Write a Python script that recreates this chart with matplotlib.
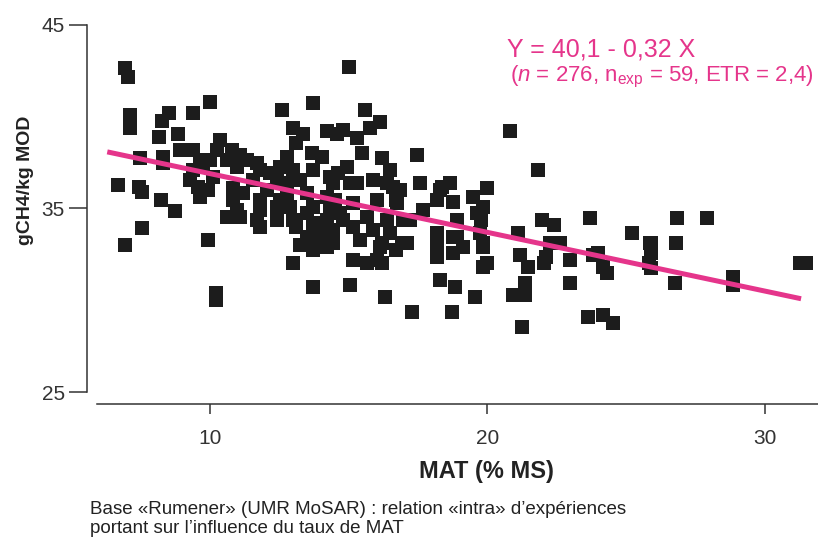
import matplotlib
matplotlib.use("Agg")
import matplotlib.pyplot as plt
import numpy as np

# ---- data (MAT % MS vs g CH4 / kg MOD) ----
mat = [
    6.94, 7.05, 7.12, 7.12, 8.52, 8.27, 9.39, 10.00, 8.16, 8.85, 8.92, 7.48, 8.31, 12.59,
    6.68, 7.44, 7.55, 6.94, 7.55, 8.23, 8.74, 9.93, 10.22, 10.22, 10.61, 9.64,
    13.71, 13.00, 13.35, 14.21, 14.58, 10.36, 9.39, 10.25, 10.79, 11.08, 9.64, 10.00,
    10.61, 11.33, 11.69, 12.77, 13.10, 13.68, 14.04, 8.31, 9.39, 9.75, 10.97, 11.80,
    12.52, 13.00, 12.16, 13.71, 14.32, 9.28, 10.11, 11.55, 12.41, 12.77, 13.24, 14.43,
    9.57, 9.93, 10.83, 11.19, 12.05, 12.77, 13.50, 14.21, 9.64, 10.83, 11.80, 12.52,
    10.97, 11.80, 12.88, 13.71, 14.32, 11.08, 11.69, 12.41, 13.00, 13.50, 11.80, 13.10,
    13.71, 14.21, 13.50, 14.04, 13.24, 13.71, 14.21, 13.00,
    15.00, 15.59, 16.13, 14.79, 15.30, 15.77, 15.48, 16.20, 17.46, 14.61, 14.93, 15.30,
    16.38, 17.57, 16.85, 18.36, 18.65,
    20.81, 16.49, 15.05, 15.86, 16.60, 18.29, 20.00, 14.50, 15.15, 16.02, 16.74, 17.68,
    18.18, 19.48, 19.84, 14.68, 15.66, 16.38, 17.21, 18.90, 19.62, 14.43, 15.15, 15.86,
    16.49, 18.18, 18.76, 19.73, 16.20, 16.92, 18.18, 19.12, 19.84, 15.15, 16.02, 18.18,
    18.76, 20.00, 18.29, 18.83, 15.05, 16.31, 19.55,
    13.71, 17.28, 18.72, 16.70, 13.71,
    21.82, 18.76, 21.96, 22.40, 23.69, 25.21, 21.10, 19.77, 18.90, 19.84, 22.25, 22.61,
    21.17, 23.98, 25.86,
    19.84, 21.46, 21.35, 20.92, 21.35, 21.25, 22.11, 22.04, 22.97, 22.97, 23.80, 24.16,
    24.30, 23.62, 24.16, 24.52, 25.82,
    26.83, 27.91, 25.89, 25.89, 25.89, 26.80, 26.76, 28.85, 28.85, 31.26, 31.48,
    12.41, 13.96, 14.43, 14.79, 15.41, 15.66, 16.20, 16.13, 17.10, 16.96, 16.70,
]
ch4 = [
    42.64, 42.15, 40.10, 39.39, 40.20, 39.77, 40.20, 40.80, 38.90, 39.06, 38.19, 37.75, 37.80, 40.37,
    36.28, 36.17, 35.89, 33.01, 33.94, 35.46, 34.86, 33.28, 30.40, 29.99, 34.54, 35.73,
    40.75, 39.39, 39.06, 39.22, 39.06, 38.73, 38.19, 38.19, 38.19, 37.92, 37.64, 37.64,
    37.64, 37.64, 37.48, 37.81, 38.57, 38.02, 37.81, 37.48, 37.10, 37.26, 37.26, 37.10,
    37.26, 37.10, 36.93, 37.10, 36.72, 36.55, 36.72, 36.55, 36.55, 36.39, 36.55, 36.39,
    36.17, 36.01, 36.12, 35.84, 36.01, 35.84, 35.84, 35.62, 35.62, 35.46, 35.46, 35.46,
    34.92, 34.92, 35.08, 35.08, 34.92, 34.54, 34.37, 34.37, 34.37, 34.76, 33.99, 33.99,
    34.21, 34.37, 33.44, 33.44, 33.01, 32.74, 32.90, 32.03,
    42.71, 40.37, 39.71, 39.28, 38.84, 39.39, 38.02, 37.75, 37.92, 36.93, 37.26, 36.39,
    36.39, 36.39, 36.01, 36.17, 36.39,
    39.22, 37.10, 36.39, 36.55, 36.17, 36.01, 36.12, 35.46, 35.30, 35.46, 35.30, 34.92,
    35.46, 35.62, 35.08, 34.76, 34.54, 34.37, 34.37, 34.37, 34.76, 33.83, 33.99, 33.83,
    33.66, 33.66, 33.44, 33.66, 33.12, 33.12, 33.12, 32.90, 32.90, 32.19, 32.19, 32.36,
    32.57, 32.03, 31.10, 30.72, 30.83, 30.18, 30.18,
    30.72, 29.36, 29.36, 32.74, 33.12,
    37.10, 35.35, 34.37, 34.10, 34.48, 33.66, 33.66, 34.37, 33.44, 33.12, 33.12, 33.12,
    32.47, 32.57, 33.12,
    31.81, 31.81, 30.94, 30.29, 30.29, 28.54, 32.36, 32.03, 32.19, 30.94, 32.47, 31.81,
    31.48, 29.09, 29.20, 28.76, 32.03,
    34.48, 34.48, 33.12, 32.57, 31.75, 33.12, 30.94, 31.26, 30.83, 32.03, 32.03,
    35.08, 33.83, 33.12, 34.37, 33.28, 32.03, 32.03, 32.90, 33.12, 34.37, 35.46,
]

intercept = 40.1
slope = -0.32
line_x = [6.3, 31.3]

x_ticks = [10, 20, 30]
y_ticks = [25, 35, 45]

eq_text = "Y = 40,1 - 0,32 X"
stats_text = r"($\mathit{n}$ = 276, n$_{\mathrm{exp}}$ = 59, ETR = 2,4)"
x_label = "MAT (% MS)"
y_label = "gCH4/kg MOD"
caption = ("Base «Rumener» (UMR MoSAR) : relation «intra» d\u2019expériences\n"
           "portant sur l\u2019influence du taux de MAT")

PINK = "#e5358b"
INK = "#1c1c1c"

plt.rcParams["font.family"] = ["Liberation Sans", "DejaVu Sans"]
plt.rcParams["mathtext.fontset"] = "custom"
plt.rcParams["mathtext.rm"] = "Liberation Sans"
plt.rcParams["mathtext.it"] = "Liberation Sans:italic"

fig = plt.figure(figsize=(8.18, 5.39), dpi=100)
ax = fig.add_axes([87 / 818, 135 / 539, 731 / 818, 389 / 539])

ax.scatter(mat, ch4, marker="s", s=9.4 ** 2, c=INK, linewidths=0, zorder=2)

lx = np.array(line_x)
ax.plot(lx, intercept + slope * lx, color=PINK, lw=3.6, solid_capstyle="butt", zorder=3)

ax.set_xlim(5.57, 31.91)
ax.set_ylim(24.35, 45.54)

for s in ("top", "right"):
    ax.spines[s].set_visible(False)
ax.spines["left"].set_bounds(25, 45)
ax.spines["bottom"].set_bounds(5.93, 31.91)
for s in ("left", "bottom"):
    ax.spines[s].set_linewidth(1.1)
    ax.spines[s].set_color("#333333")

ax.set_xticks(x_ticks)
ax.set_yticks(y_ticks)
ax.tick_params(axis="y", length=13, width=1.1, color="#333333", pad=3,
               labelsize=15, labelcolor="#333333")
ax.tick_params(axis="x", length=7, width=1.1, color="#333333", pad=11,
               labelsize=15, labelcolor="#333333")

ax.set_xlabel(x_label, fontsize=17, fontweight="bold", color="#222222")
ax.xaxis.set_label_coords(0.547, -0.145)
ax.set_ylabel(y_label, fontsize=14, fontweight="bold", color="#222222")
ax.yaxis.set_label_coords(-0.072, 0.576)

ax.text(0.574, 0.912, eq_text, transform=ax.transAxes, color=PINK, fontsize=18,
        ha="left", va="center")
ax.text(0.578, 0.84, stats_text, transform=ax.transAxes, color=PINK, fontsize=16,
        ha="left", va="center")

fig.text(90 / 818, 1 - 519 / 539, caption, fontsize=13.5, color="#222222",
         ha="left", va="center", linespacing=1.2)

fig.savefig("out.png", dpi=100)
